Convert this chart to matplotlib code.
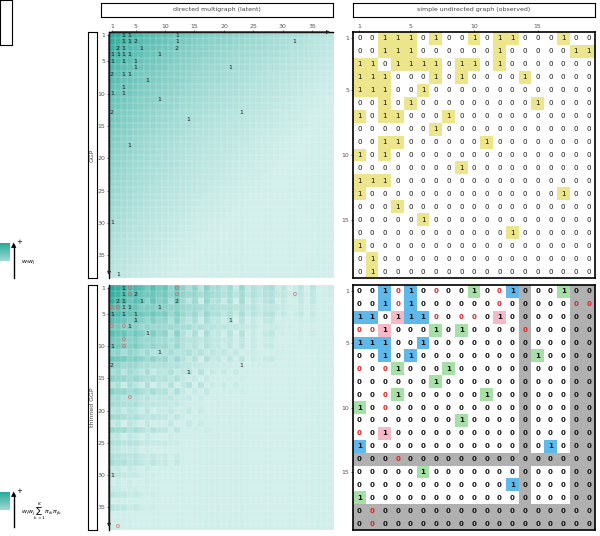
import numpy as np
import matplotlib.pyplot as plt
from matplotlib.colors import LinearSegmentedColormap, to_rgb

# ============================================================
# DADOS
# ============================================================
N_LAT = 38
N_OBS = 19

# pesos latentes w_i (decrescentes)
pesos = [1.00, 0.97, 0.95, 0.93, 0.91, 0.89, 0.87, 0.86, 0.84, 0.83,
         0.81, 0.80, 0.78, 0.77, 0.76, 0.74, 0.73, 0.72, 0.71, 0.70,
         0.69, 0.68, 0.67, 0.66, 0.65, 0.64, 0.63, 0.62, 0.61, 0.60,
         0.59, 0.58, 0.57, 0.56, 0.55, 0.54, 0.53, 0.52]

# fator de afinamento por nó (sum_k pi_ik pi_jk aproximado por dois grupos)
grupo_a = [1.0, 0.9, 1.0, 0.8, 1.0, 0.9, 0.7, 1.0, 0.8, 0.9,
           0.6, 1.0, 0.7, 0.5, 0.8, 0.4, 0.9, 0.6, 0.7, 0.5,
           0.8, 0.4, 0.9, 0.5, 0.7, 0.6, 0.8, 0.9, 0.5, 0.7,
           0.4, 0.6, 0.8, 0.5, 0.9, 0.3, 0.6, 0.7]
grupo_b = [0.2, 0.4, 0.1, 0.5, 0.3, 0.2, 0.6, 0.1, 0.4, 0.3,
           0.7, 0.2, 0.5, 0.8, 0.3, 0.9, 0.2, 0.6, 0.4, 0.7,
           0.3, 0.8, 0.2, 0.6, 0.5, 0.4, 0.3, 0.2, 0.7, 0.4,
           0.8, 0.5, 0.3, 0.6, 0.2, 0.9, 0.5, 0.4]

# contagens do multigrafo latente (linha, coluna, valor)
contagens = [(1, 3, 1), (1, 4, 1), (1, 12, 1),
             (2, 3, 1), (2, 4, 1), (2, 5, 2), (2, 12, 1), (2, 32, 1),
             (3, 2, 2), (3, 3, 1), (3, 6, 1), (3, 12, 2),
             (4, 1, 1), (4, 2, 1), (4, 3, 1), (4, 4, 1), (4, 9, 1),
             (5, 1, 1), (5, 3, 1), (5, 5, 1), (6, 5, 1), (6, 21, 1),
             (7, 1, 2), (7, 3, 1), (7, 4, 1), (8, 7, 1), (9, 3, 1),
             (10, 1, 1), (10, 3, 1), (11, 9, 1), (13, 1, 2), (13, 23, 1),
             (14, 14, 1), (18, 4, 1), (30, 1, 1), (38, 2, 1)]
# arestas removidas pelo afinamento (viram 0 vermelho)
removidas = [(1, 4), (1, 12), (2, 4), (2, 12), (2, 32), (4, 1), (4, 2),
             (7, 1), (7, 3), (9, 3), (10, 3), (18, 4), (38, 2)]

grafo_obs = ["0011101001011000100",
             "0011100000010000011",
             "1101111011010000000",
             "1110001010000100000",
             "1110010000000000000",
             "0010100000000010000",
             "1011000100000000000",
             "0000001000000000000",
             "0011000000100000000",
             "1010000000000000000",
             "0000000010000000000",
             "1110000000000000000",
             "1000000000000000100",
             "0001000000000000000",
             "0000010000000000000",
             "0000000000001000000",
             "1000000000000000000",
             "0100000000000000000",
             "0100000000000000000"]

# b = mantida, g = nova, p = 1 após afinamento, r = 0 removido, 0 = zero
grafo_afinado = ["00brb0r00g0rb000g00",
                 "00brb000000r00000rr",
                 "bb0pbbr0rr0p0000000",
                 "rrp000g0g0000r00000",
                 "bbb00b0000000000000",
                 "00b0b000000000g0000",
                 "r0rg000g00000000000",
                 "000000g000000000000",
                 "00rg000000g00000000",
                 "g0r0000000000000000",
                 "00000000g0000000000",
                 "r0p0000000000000000",
                 "b00000000000000b000",
                 "000r000000000000000",
                 "00000g0000000000000",
                 "000000000000b000000",
                 "g000000000000000000",
                 "0r00000000000000000",
                 "0r00000000000000000"]
mascara_linhas = [14, 18, 19]
mascara_colunas = [14, 18, 19]

# ============================================================
# ESTILO
# ============================================================
plt.rcParams['font.family'] = 'DejaVu Sans'
plt.rcParams['font.size'] = 4.5

CMAP = LinearSegmentedColormap.from_list('teal', ['#d0eeea', '#2aaa9c'])
CORES = {'y': '#ece58c', 'b': '#5fb8ea', 'g': '#a6e0a6', 'p': '#f4b9c9'}
CINZA = '#b0b0b0'

fig = plt.figure(figsize=(6, 5.36), dpi=100)
W, H = 600, 536


def eixo(x0, y0, x1, y1):
    return fig.add_axes([x0 / W, 1 - y1 / H, (x1 - x0) / W, (y1 - y0) / H])


def caixa(x0, y0, x1, y1, texto, rot=0):
    ax = eixo(x0, y0, x1, y1)
    ax.set_xticks([]); ax.set_yticks([])
    for s in ax.spines.values():
        s.set_linewidth(0.8)
    ax.text(0.5, 0.5, texto, ha='center', va='center', rotation=rot,
            transform=ax.transAxes, fontsize=4.5, color='#444444')


def latente(ax, matriz, afinado):
    n = N_LAT
    ax.imshow(matriz, cmap=CMAP, vmin=0.25, vmax=1, extent=(0.5, n + .5, n + .5, 0.5),
              aspect='auto', interpolation='nearest')
    for k in range(n + 1):
        ax.axhline(k + .5, color='white', lw=0.3, alpha=0.5)
        ax.axvline(k + .5, color='white', lw=0.3, alpha=0.5)
    for (i, j, v) in contagens:
        if afinado and (i, j) in removidas:
            ax.text(j, i, '0', ha='center', va='center', color='#e05050', fontsize=4.5)
        else:
            ax.text(j, i, str(v), ha='center', va='center', color='#222222', fontsize=4.5)
    ax.set_xlim(0.5, n + .5); ax.set_ylim(n + .5, 0.5)
    ticks = [1, 5, 10, 15, 20, 25, 30, 35]
    ax.set_yticks(ticks)
    if afinado:
        ax.set_xticks([])
    else:
        ax.set_xticks(ticks)
        ax.xaxis.tick_top()
    ax.tick_params(length=1.5, width=0.4, pad=1, labelcolor='#555555')
    for s in ['right', 'bottom']:
        ax.spines[s].set_visible(False)
    ax.spines['left'].set_linewidth(1)
    ax.spines['top'].set_linewidth(1 if not afinado else 0)
    ax.annotate('', xy=(0.5, n + .5), xytext=(0.5, 0.5),
                arrowprops=dict(arrowstyle='-|>', lw=1, color='#222222', mutation_scale=4))
    if not afinado:
        ax.annotate('', xy=(n + .5, 0.5), xytext=(0.5, 0.5),
                    arrowprops=dict(arrowstyle='-|>', lw=1, color='#222222', mutation_scale=4))


def observado(ax, linhas, afinado):
    n = N_OBS
    rgb = np.ones((n, n, 3))
    for i in range(n):
        for j in range(n):
            c = linhas[i][j]
            if afinado and (i + 1 in mascara_linhas or j + 1 in mascara_colunas):
                rgb[i, j] = to_rgb(CINZA)
            elif c in CORES:
                rgb[i, j] = to_rgb(CORES[c])
            elif c == '1':
                rgb[i, j] = to_rgb(CORES['y'])
    ax.imshow(rgb, extent=(0.5, n + .5, n + .5, 0.5), aspect='auto', interpolation='nearest')
    for i in range(n):
        for j in range(n):
            c = linhas[i][j]
            txt = '0' if c in '0r' else '1'
            cor = '#e02020' if c == 'r' else '#111111'
            peso = 'bold' if afinado else 'normal'
            ax.text(j + 1, i + 1, txt, ha='center', va='center', color=cor,
                    fontsize=5, fontweight=peso)
    ax.set_xlim(0.5, n + .5); ax.set_ylim(n + .5, 0.5)
    ax.set_yticks([1, 5, 10, 15])
    if afinado:
        ax.set_xticks([])
    else:
        ax.set_xticks([1, 5, 10, 15])
        ax.xaxis.tick_top()
    ax.tick_params(length=1.5, width=0.4, pad=1, labelcolor='#555555')
    for s in ax.spines.values():
        s.set_linewidth(1.2)


# ============================================================
# MATRIZES
# ============================================================
w = np.array(pesos)
matriz_ggp = np.outer(w, w) ** 1.6
fator = (np.outer(grupo_a, grupo_a) + np.outer(grupo_b, grupo_b))
matriz_afinada = matriz_ggp * np.clip(fator, 0.5, 1.0)

caixa(101, 3, 333, 17, 'directed multigraph (latent)')
caixa(353, 3, 595, 17, 'simple undirected graph (observed)')
caixa(88, 32, 97, 278, 'GGP', rot=90)
caixa(88, 285, 97, 530, 'thinned GGP', rot=90)
caixa(0, 0, 12, 45, '')

latente(eixo(109, 32, 333, 278), matriz_ggp, False)
latente(eixo(109, 285, 333, 530), matriz_afinada, True)
observado(eixo(353, 32, 595, 278), grafo_obs, False)
observado(eixo(353, 285, 595, 530), grafo_afinado, True)

# legendas à esquerda
for (y0, rotulo) in [(243, r'$w_iw_j$'), (492, r'$w_iw_j\sum_{k=1}^{K}\pi_{ik}\pi_{jk}$')]:
    ax = eixo(0, y0, 10, y0 + 18)
    ax.imshow(np.linspace(1, 0.3, 20)[:, None], cmap=CMAP, vmin=0, vmax=1, aspect='auto')
    ax.axis('off')
    fig.add_artist(plt.Line2D([14 / W, 14 / W], [1 - (y0 + 35) / H, 1 - (y0 + 2) / H],
                              color='black', lw=1))
    fig.text(14 / W, 1 - (y0 + 2) / H, '▲', ha='center', va='center', fontsize=5)
    fig.text(19 / W, 1 - (y0 - 1) / H, '+', ha='center', va='center', fontsize=5)
    fig.text(21 / W, 1 - (y0 + 20) / H, rotulo, ha='left', va='center', fontsize=4.5)

plt.savefig('out.png', dpi=100)
plt.close()
